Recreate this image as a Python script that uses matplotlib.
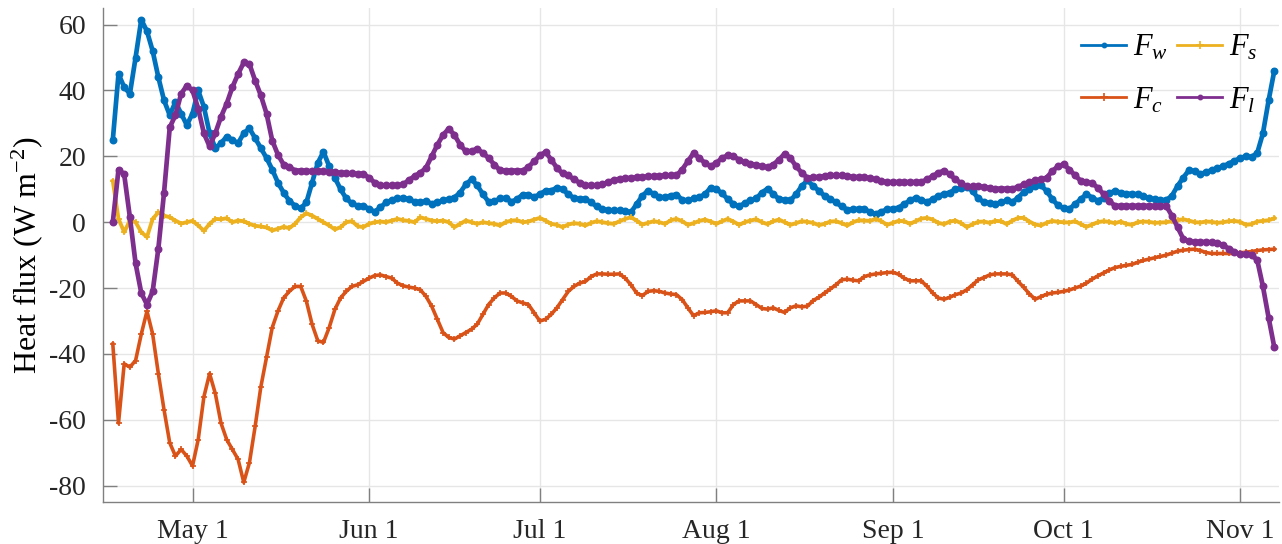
import matplotlib
matplotlib.use("Agg")
import matplotlib.pyplot as plt
import matplotlib.dates as mdates
from matplotlib.ticker import FuncFormatter
import numpy as np
import pandas as pd

plt.rcParams['font.family'] = ['Liberation Serif', 'DejaVu Serif']
plt.rcParams['mathtext.fontset'] = 'custom'
plt.rcParams['mathtext.rm'] = 'Liberation Serif'
plt.rcParams['mathtext.it'] = 'Liberation Serif:italic'
plt.rcParams['axes.unicode_minus'] = False

# daily values, first day = Apr 17
start_date = "2019-04-17"

F_w = [25, 45, 41, 39, 50, 61.5, 58, 52, 44, 37,
       32.5, 36.5, 33, 29.5, 33, 40, 35, 27, 22.5, 24,
       26, 25, 24, 27, 28.5, 25.5, 22.5, 19.5, 16, 12,
       9, 6.5, 5, 4.2, 6, 12, 18, 21.4, 17, 13.5,
       10, 7.2, 5.7, 5, 5, 4, 3.2, 4.5, 6, 6.7,
       7.2, 7.4, 7, 6.2, 6, 6.4, 5.6, 6, 6.6, 7,
       7.5, 9, 11.5, 13, 11.2, 8.5, 6.2, 6.3, 7.2, 7.4,
       6.2, 7, 8.4, 8.4, 7.6, 8.5, 9.6, 9.6, 10.5, 10,
       8.5, 7.3, 7.1, 7.1, 6, 4.8, 4, 3.6, 3.6, 3.6,
       3.3, 3, 5.5, 8, 9.6, 8.5, 7.6, 7.6, 8.1, 8.4,
       6.8, 6.6, 7.2, 7.6, 8.5, 10.5, 10, 8.8, 7, 5.5,
       4.8, 5.8, 6.6, 7.2, 9, 10.2, 8.5, 7.1, 6.8, 6.6,
       8.5, 11, 12.7, 11, 9.6, 8, 7.1, 6, 4.8, 3.8,
       3.9, 4.1, 4.1, 3, 2.5, 3.2, 3.9, 4.1, 4.4, 5.5,
       6.6, 7.4, 6.8, 6.1, 7, 8, 8.6, 9, 10, 10.5,
       10.7, 9.5, 7.2, 6.1, 5.8, 5.6, 6, 6.6, 6.1, 7.5,
       9.2, 10, 11, 11.2, 9.5, 7, 5.1, 4.2, 4, 5.5,
       7, 8.5, 7.5, 6.5, 7.5, 8.8, 9.5, 9, 8.7, 8.6,
       8.5, 8, 7.2, 7, 6.8, 6.7, 8, 11, 13.5, 15.8,
       15.5, 14.6, 15.2, 15.8, 16.4, 17, 17.8, 18.6, 19.5, 20,
       19.8, 21, 27, 37, 46]

F_c = [-37, -61, -43, -44, -42, -34, -27, -34, -46, -57,
       -67, -71, -69, -71, -74, -66, -53, -46, -52, -61,
       -66, -69, -72, -79, -73, -62, -50, -41, -32, -27,
       -23, -21, -19.5, -19.5, -24, -31, -36, -36.5, -32, -26.5,
       -23, -21, -19.5, -19, -18, -17, -16.2, -16, -16.5, -17,
       -18.5, -19.3, -19.7, -20, -20.5, -22.5, -25.5, -29.5, -33.5, -35,
       -35.5, -34.5, -33.5, -32.5, -31, -28, -25, -23, -21.5, -21.5,
       -22.5, -23.9, -24.5, -25, -27.5, -30, -29.5, -28, -26, -23.5,
       -21, -19.5, -18.5, -18, -16.5, -15.7, -15.7, -15.8, -15.8, -15.7,
       -17, -19, -21.5, -22.3, -21, -20.8, -21, -21.5, -21.8, -22,
       -23.5, -26, -28.4, -27.5, -27.4, -27.2, -26.9, -27.5, -27.5, -25,
       -23.9, -23.9, -23.9, -25, -26.2, -26.4, -26, -26.8, -27.4, -26,
       -25.4, -25.7, -25.5, -23.8, -22.8, -21.5, -20.3, -19, -17.5, -17.3,
       -17.6, -17.8, -16.5, -16, -15.7, -15.5, -15.3, -15.2, -15.8, -17,
       -17.8, -17.8, -17.8, -19.5, -21.5, -23, -23.4, -22.8, -22, -21.5,
       -20.5, -19, -17.5, -16.8, -16, -15.7, -15.7, -15.7, -16, -18,
       -19.8, -21.8, -23.4, -22.6, -21.9, -21.5, -21.3, -21, -20.6, -20,
       -19.4, -18.5, -17.3, -16.3, -15.4, -14.5, -13.8, -13.4, -13.1, -12.8,
       -12.2, -11.6, -11.2, -10.8, -10.4, -10, -9.4, -8.8, -8.5, -8.3,
       -8.2, -8.6, -9.2, -9.5, -9.5, -9.5, -9.5, -9.5, -9.3, -9.1,
       -8.9, -8.6, -8.4, -8.3, -8.2]

F_s = [12.5, 1, -3, 0.5, 0, -3, -4.5, 1, 3, 2,
       1.5, 0.5, -0.4, 0, 0.4, -1, -2.6, -0.5, 1, 0.9,
       1.2, 0, 0.5, 0.3, -0.5, -1.1, -1.3, -1.6, -2.5, -2,
       -1.4, -1.8, -0.5, 1.5, 2.7, 2, 1, 0, -1, -2.2,
       -1.5, 0, 0.3, -1.2, -1.5, -0.5, 0, 0.2, 0, 0.5,
       1, 0.6, 0.4, 0, 1.5, 1, 0.5, 0.3, 0.5, 0,
       -1.5, -0.5, 0.5, 0, -0.5, 0, -0.3, -0.5, -1, 0,
       0.5, 0.6, 0, 0.2, 0.8, 1.3, 0.5, -0.5, -0.8, -1.5,
       -0.7, -0.3, -0.5, -1, -0.2, 0.3, 0, -0.3, -0.5, 0.3,
       1, 1.5, 0.5, -0.7, -0.2, 0.3, 0, -0.5, 0.6, 1,
       0.3, -0.8, -0.3, 0.4, 0.8, 0.2, -0.5, 0.3, 1, 0.2,
       -0.8, 0, 0.5, 0.9, 0, -0.6, 0.3, 0.8, 0, -0.8,
       -0.3, 0.3, 0.1, -0.2, -0.9, -0.5, 0.2, 0.3, -0.3, -1,
       0, 0.6, 0.5, 0.4, 1, 0.3, -0.8, -0.2, 0.4, 0.3,
       -0.5, 0.3, 1.1, 1.3, 0.8, -0.2, -0.6, 0.2, 0.5, -0.3,
       -1.5, -0.6, 0.1, 0.2, -0.2, 0.4, 0.3, -0.6, 0.5, 1.3,
       1.3, 0.2, -0.7, -1, -0.2, 0.4, 0.1, 0, -0.1, 0.3,
       -0.6, -1.4, -0.7, 0, 0.3, 0.1, -0.3, 0.2, -0.5, -0.8,
       0, 0.2, 0.1, -0.2, -0.1, 0, 0.3, 0.6, 0.9, 0.5,
       0, -0.1, 0.2, 0.1, -0.2, 0, 0.3, 0.4, 0.1, -0.8,
       -0.6, 0.2, 0.4, 0.6, 1.2]

F_l = [0, 16, 14.5, 1.5, -12.5, -21.5, -25, -21, -8, 9,
       28.8, 32.5, 39, 41.5, 40, 34.5, 27, 23, 27, 32,
       36, 41, 45, 48.5, 48, 43, 38.5, 33, 24.8, 20.5,
       17.5, 16.8, 15.7, 15.7, 15.6, 15.5, 15.5, 15.4, 15.3, 15.2,
       15, 14.9, 14.8, 14.7, 14.7, 13.5, 12, 11.2, 11.2, 11.2,
       11.2, 11.5, 12.8, 14, 15, 16.5, 20, 23.5, 26.5, 28.4,
       26.5, 23.5, 21.5, 21.6, 22.3, 21, 19.5, 17.5, 15.8, 15.7,
       15.7, 15.7, 15.7, 16.8, 18.5, 20.3, 21.3, 19, 16.5, 14.8,
       14.2, 13, 12, 11.3, 11.2, 11.2, 11.5, 12.2, 12.8, 13.2,
       13.3, 13.5, 13.6, 13.8, 13.9, 14, 14.1, 14.2, 14.2, 14.2,
       16, 18.5, 21, 19.5, 18, 17, 18, 19.5, 20.3, 20,
       19, 18.2, 17.8, 17.3, 17, 16.7, 17.5, 19, 20.8, 19.5,
       17, 15, 13.5, 13.6, 13.8, 14, 14.2, 14.2, 14.2, 14,
       13.8, 13.7, 13.6, 13.4, 13, 12.5, 12.2, 12.2, 12.2, 12.2,
       12.2, 12.2, 12.2, 13, 14, 15, 15.7, 14.5, 13, 11.8,
       10.9, 10.9, 10.9, 10.7, 10.4, 10.2, 10.2, 10.2, 10.2, 10.7,
       11.5, 12.2, 12.7, 13, 13.5, 15.5, 17, 17.6, 16, 14.2,
       12.6, 12.2, 11.8, 10.5, 8.5, 6.5, 5, 5, 5, 5,
       5, 5, 5, 5, 5, 5, 2, -1.5, -5, -5.8,
       -5.9, -6, -6, -6.1, -6.2, -7, -8, -9, -9.7, -9.8,
       -9.9, -11.5, -19.5, -29, -38]

series = [
    # values, label, colour, marker, marker size, line width
    (F_w, r'$F_w$', '#0072BD', '.', 9, 3.4),
    (F_c, r'$F_c$', '#D95319', '+', 5, 2.6),
    (F_s, r'$F_s$', '#EDB120', '+', 4, 2.8),
    (F_l, r'$F_l$', '#7E2F8E', '.', 9, 3.4),
]

fig = plt.figure(figsize=(12.82, 5.44), dpi=100)
ax = fig.add_axes([0.080, 0.077, 0.918, 0.908])

for vals, lab, col, mk, ms, lw in series:
    dates = pd.date_range(start_date, periods=len(vals), freq="D")
    ax.plot(dates, vals, color=col, marker=mk, markersize=ms, linewidth=lw,
            markeredgewidth=1.2, label=lab, solid_joinstyle="round")

t0 = pd.Timestamp(start_date)
ax.set_xlim(t0 - pd.Timedelta(days=1.8), t0 + pd.Timedelta(days=204.9))
ax.set_ylim(-85, 65)
ax.set_yticks(np.arange(-80, 61, 20))

ax.xaxis.set_major_locator(mdates.MonthLocator(bymonth=range(5, 12), bymonthday=1))
ax.xaxis.set_major_formatter(FuncFormatter(
    lambda x, pos: "{:%b} {}".format(mdates.num2date(x), mdates.num2date(x).day)))

for s in ["top", "right"]:
    ax.spines[s].set_visible(False)
for s in ["left", "bottom"]:
    ax.spines[s].set_color("#808080")
    ax.spines[s].set_linewidth(1.0)

ax.tick_params(direction="in", length=10, width=1.0, color="#808080",
               labelsize=20, labelcolor="#262626", pad=12)
ax.grid(True, color="#e6e6e6", linewidth=1.0)
ax.set_axisbelow(True)

ax.set_ylabel(r'Heat flux (W m$^{\mathregular{-2}}$)', fontsize=23)
ax.yaxis.set_label_coords(-0.049, 0.5)

leg = ax.legend(loc="upper right", ncol=2, frameon=False, fontsize=22,
                bbox_to_anchor=(1.005, 1.005), handlelength=1.45, columnspacing=0.3,
                handletextpad=0.25, labelspacing=0.75)
for h in leg.legend_handles:
    h.set_markersize(6)
    h.set_linewidth(2.0)

fig.savefig("out.png", dpi=100)
